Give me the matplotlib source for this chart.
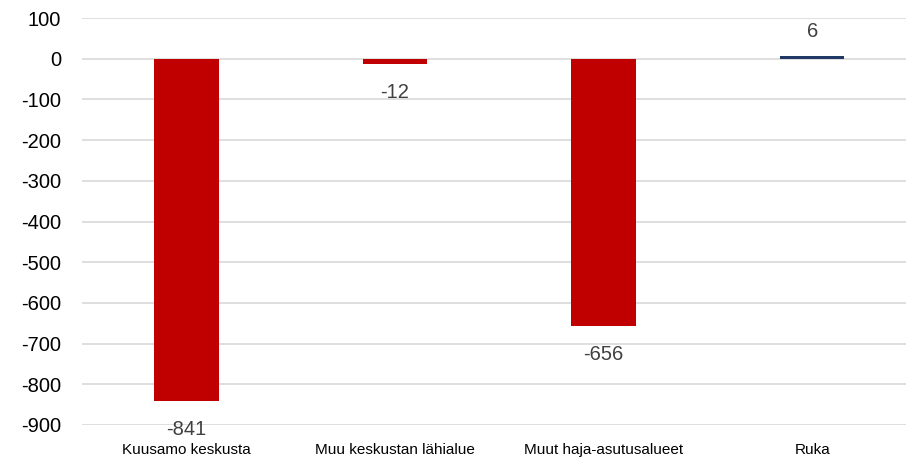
import matplotlib
matplotlib.use("Agg")
import matplotlib.pyplot as plt

# alueet ja muutos
alueet = ["Kuusamo keskusta", "Muu keskustan lähialue", "Muut haja-asutusalueet", "Ruka"]
muutos = [-841, -12, -656, 6]
y_ticks = [100, 0, -100, -200, -300, -400, -500, -600, -700, -800, -900]

plt.rcParams['font.family'] = ['Liberation Sans', 'DejaVu Sans']

fig = plt.figure(figsize=(9.06, 4.58), dpi=100)
ax = fig.add_axes([82 / 906, 33 / 458, 1 - 82 / 906, 407 / 458])

colors = ['#C00000' if v < 0 else '#1F3864' for v in muutos]
x = range(len(alueet))
ax.bar(x, muutos, width=0.31, color=colors, zorder=3)

for i, v in enumerate(muutos):
    if v < 0:
        ax.annotate(str(v), (i, v), xytext=(0, -14), textcoords='offset points',
                    ha='center', va='top', fontsize=14.5, color='#404040')
    else:
        ax.annotate(str(v), (i, v), xytext=(0, 11), textcoords='offset points',
                    ha='center', va='bottom', fontsize=14.5, color='#404040')

ax.set_ylim(-900, 100)
ax.set_xlim(-0.5, 3.45)
ax.set_yticks(y_ticks)
ax.set_yticklabels([str(t) for t in y_ticks], fontsize=14.5, color='#000000')
ax.set_xticks(list(x))
ax.set_xticklabels(alueet, fontsize=11)
ax.tick_params(axis='y', length=0, pad=15)
ax.tick_params(axis='x', length=0, pad=13)
ax.grid(axis='y', color='#D9D9D9', linewidth=1.2, zorder=0)
for s in ax.spines.values():
    s.set_visible(False)

fig.savefig('out.png', dpi=100)
